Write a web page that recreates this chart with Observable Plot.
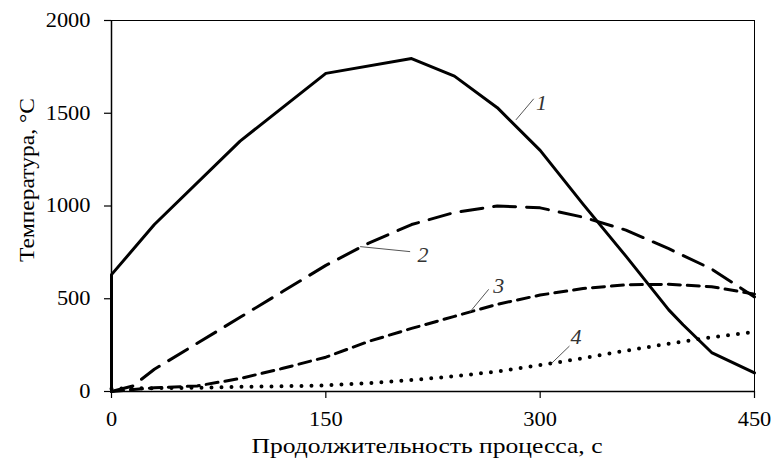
<!DOCTYPE html>
<html>
<head>
<meta charset="utf-8">
<script src="https://cdn.jsdelivr.net/npm/d3@7"></script>
<script src="https://cdn.jsdelivr.net/npm/@observablehq/plot@0.6"></script>
<style>
  html, body { margin: 0; padding: 0; background: #fff; }
  #chart { width: 774px; height: 464px; }
</style>
</head>
<body>
<div id="chart"></div>
<script>
// ---- data ----
const xTicks = [0, 150, 300, 450];
const yTicks = [0, 500, 1000, 1500, 2000];
const xLabel = "Продолжительность процесса, с";
const yLabel = "Температура, °С";

const t1 = [0, 0, 30, 90, 150, 210, 240, 270, 300, 330, 360, 390, 400, 420, 450];
const v1 = [0, 630, 900, 1350, 1715, 1795, 1700, 1530, 1300, 1010, 730, 440, 360, 210, 100];

const t2 = [0, 15, 30, 60, 90, 120, 150, 180, 210, 240, 270, 300, 330, 360, 390, 420, 450];
const v2 = [0, 30, 120, 260, 400, 540, 680, 800, 900, 965, 1000, 990, 940, 870, 770, 660, 510];

const t3 = [0, 30, 60, 90, 120, 150, 180, 210, 240, 270, 300, 330, 360, 390, 420, 450];
const v3 = [0, 20, 30, 70, 125, 185, 270, 340, 405, 470, 520, 555, 575, 578, 565, 525];

const t4 = [0, 30, 60, 90, 120, 150, 180, 210, 240, 270, 300, 330, 360, 390, 420, 450];
const v4 = [15, 18, 20, 25, 28, 33, 45, 62, 82, 108, 142, 180, 220, 258, 292, 322];

const curveLabels = ["1", "2", "3", "4"];
const labelX = [301, 218, 271, 325];
const labelY = [1556, 736, 569, 296];
const leaderX1 = [283, 174, 251, 308];
const leaderY1 = [1464, 781, 430, 152];
const leaderX2 = [295.5, 209, 264, 320.5];
const leaderY2 = [1578, 754, 551, 245];

// ---- build tables ----
const toRows = (ts, vs) => ts.map((t, i) => ({t, v: vs[i]}));
const s1 = toRows(t1, v1), s2 = toRows(t2, v2), s3 = toRows(t3, v3), s4 = toRows(t4, v4);
const labels = curveLabels.map((text, i) => ({text, x: labelX[i], y: labelY[i]}));
const leaders = curveLabels.map((_, i) => ({x1: leaderX1[i], y1: leaderY1[i], x2: leaderX2[i], y2: leaderY2[i]}));

const fmt = d => String(d);

const chart = Plot.plot({
  width: 774,
  height: 464,
  marginLeft: 111,
  marginRight: 20,
  marginTop: 20,
  marginBottom: 73,
  style: {fontFamily: "'Liberation Serif', serif", fontSize: "20px", background: "#fff", color: "#000", overflow: "visible"},
  x: {domain: [0, 450]},
  y: {domain: [0, 2000]},
  marks: [
    Plot.frame({stroke: "#000", strokeWidth: 1}),
    Plot.axisX({ticks: xTicks, tickFormat: fmt, tickSize: 7, tickPadding: 13, label: null, fontSize: 20, stroke: "#000", strokeWidth: 1.2}),
    Plot.axisY({ticks: yTicks, tickFormat: fmt, tickSize: 7, tickPadding: 14, label: null, fontSize: 20, stroke: "#000", strokeWidth: 1.2}),
    Plot.ruleX([0], {stroke: "#000", strokeWidth: 1.5}),
    Plot.ruleY([0], {stroke: "#000", strokeWidth: 1.5}),
    Plot.line(s4, {x: "t", y: "v", stroke: "#000", strokeWidth: 4, strokeDasharray: "0,10", strokeLinecap: "round"}),
    Plot.line(s3, {x: "t", y: "v", stroke: "#000", strokeWidth: 3, strokeDasharray: "12,7"}),
    Plot.line(s2, {x: "t", y: "v", stroke: "#000", strokeWidth: 3, strokeDasharray: "22,11"}),
    Plot.line(s1, {x: "t", y: "v", stroke: "#000", strokeWidth: 3, strokeLinejoin: "round"}),
    Plot.link(leaders, {x1: "x1", y1: "y1", x2: "x2", y2: "y2", stroke: "#555", strokeWidth: 1}),
    Plot.text(labels, {x: "x", y: "y", text: "text", fontSize: 22, fontStyle: "italic", fill: "#333"})
  ]
});

const svg = d3.select(chart);
svg.append("text")
  .attr("class", "xlab")
  .attr("x", 427).attr("y", 453)
  .attr("text-anchor", "middle")
  .attr("font-size", 22)
  .attr("fill", "#000")
  .text(xLabel);
svg.append("text")
  .attr("class", "ylab")
  .attr("transform", "translate(34,180) rotate(-90)")
  .attr("text-anchor", "middle")
  .attr("font-size", 22)
  .attr("fill", "#000")
  .text(yLabel);

document.getElementById("chart").appendChild(chart);

// stretch text horizontally to match the reference proportions
svg.selectAll("g[aria-label='x-axis tick label'] text, g[aria-label='y-axis tick label'] text").each(function() {
  const len = this.getComputedTextLength();
  this.setAttribute("textLength", (len * 1.12).toFixed(1));
  this.setAttribute("lengthAdjust", "spacingAndGlyphs");
});
svg.select("text.xlab").attr("textLength", 351).attr("lengthAdjust", "spacingAndGlyphs");
svg.select("text.ylab").attr("textLength", 164).attr("lengthAdjust", "spacingAndGlyphs");
</script>
</body>
</html>
